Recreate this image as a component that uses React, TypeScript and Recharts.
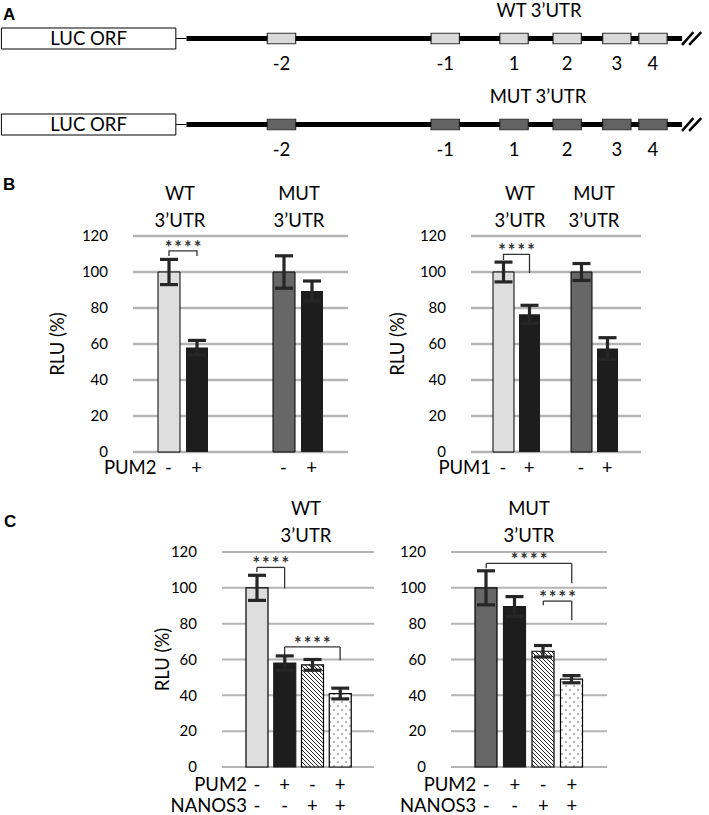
import React from "react";
import {
  BarChart,
  Bar,
  ComposedChart,
  Scatter,
  XAxis,
  YAxis,
  CartesianGrid,
  ErrorBar,
  Cell,
  LabelList,
  ReferenceLine,
  ReferenceArea,
} from "recharts";

const FONT = "Lato, 'Open Sans', sans-serif";
const LIGHT = "#dedede";
const DARK = "#676767";
const BLACK = "#1d1d1d";
const GRID = "#b4b4b4";
const ERR = "#262626";

// panel A - reporter constructs (schematic units, 0..100 across the page)
const motifLabels = ["-2", "-1", "1", "2", "3", "4"];
const motifStart = [37.7, 60.8, 70.5, 78.0, 85.0, 90.1];
const motifLen = 4;
const orfEnd = 24.8;
const utrStart = 26.3;
const utrEnd = 96.2;

// panel B
const constructs = ["WT 3’UTR", "MUT 3’UTR"];
const pum2Minus = [100, 100];
const pum2MinusErr = [7, 9];
const pum2Plus = [58, 89.5];
const pum2PlusErr = [4, 5.5];
const pum1Minus = [100, 100];
const pum1MinusErr = [5.5, 4.7];
const pum1Plus = [76.5, 57.5];
const pum1PlusErr = [5, 6];
// bracket per construct: [top, left leg end, right leg end]
const pum2Sig = [[111.7, 108.9, 108.9], null];
const pum1Sig = [[109.8, 106.7, 99.4], null];

// panel C
const pum2Signs = ["-", "+", "-", "+"];
const nanos3Signs = ["-", "-", "+", "+"];
const wtCombo = [100, 58, 57, 41];
const wtComboErr = [7, 4, 3, 3];
const mutCombo = [100, 89.5, 64.6, 49];
const mutComboErr = [9.5, 5.6, 3.2, 2];
// [from bar, to bar, top, left leg end, right leg end]
const wtSig = [
  [0, 1, 111.4, 108.9, 99.7],
  [1, 3, 67, 62.4, 59.6],
];
const mutSig = [
  [0, 3, 113.6, 111, 102.5],
  [2, 3, 92.6, 90.3, 81.9],
];

const yTicks = [0, 20, 40, 60, 80, 100, 120];

const txt = { fontFamily: FONT, fontSize: 18.5, fill: "#000" };

function Stars({ x, y }: { x: number; y: number }) {
  return (
    <text x={x + 1} y={y + 3} textAnchor="middle" fontFamily={FONT} fontWeight={700} fontSize={18} fill="#333" letterSpacing={2}>
      ****
    </text>
  );
}

function Construct({ top, boxFill }: { top: number; boxFill: string }) {
  const data = motifLabels.map((label, i) => ({
    label,
    start: motifStart[i],
    mid: motifStart[i] + motifLen / 2,
    y: 0,
  }));
  // backbone pieces between the motif boxes
  const cuts = [utrStart, ...motifStart.flatMap((s) => [s, s + motifLen]), utrEnd];
  const pieces: number[][] = [];
  for (let i = 0; i < cuts.length; i += 2) pieces.push([cuts[i], cuts[i + 1]]);

  return (
    <div style={{ position: "absolute", left: 0, top, width: 709, height: 86 }}>
      <ComposedChart width={709} height={86} data={data} margin={{ top: 28, right: 0, bottom: 7, left: 0 }}>
        <XAxis
          type="number"
          dataKey="mid"
          domain={[0, 100]}
          ticks={data.map((d) => d.mid)}
          interval={0}
          axisLine={false}
          tickLine={false}
          tickSize={0}
          tickMargin={0}
          height={30}
          tick={(p: any) => (
            <text x={p.x} y={p.y + 21} textAnchor="middle" {...txt}>
              {motifLabels[p.index]}
            </text>
          )}
        />
        <YAxis type="number" hide domain={[-1, 1]} />
        <Scatter dataKey="y" shape={() => <g />} isAnimationActive={false} />
        <ReferenceArea
          x1={0.2}
          x2={orfEnd}
          y1={-1}
          y2={1}
          fill="#fff"
          fillOpacity={1}
          stroke="#000"
          strokeWidth={1}
          ifOverflow="visible"
          label={{ value: "LUC ORF", position: "center", ...txt }}
        />
        {data.map((d) => (
          <ReferenceArea
            key={d.label}
            x1={d.start}
            x2={d.start + motifLen}
            y1={-0.5}
            y2={0.5}
            fill={boxFill}
            fillOpacity={1}
            stroke="#333"
            strokeWidth={1.2}
            ifOverflow="visible"
          />
        ))}
        <ReferenceLine segment={[{ x: orfEnd, y: 0 }, { x: utrStart, y: 0 }]} stroke="#000" strokeWidth={1} ifOverflow="visible" />
        {pieces.map(([a, b]) => (
          <ReferenceLine key={a} segment={[{ x: a, y: 0 }, { x: b, y: 0 }]} stroke="#000" strokeWidth={5} ifOverflow="visible" />
        ))}
        <ReferenceLine segment={[{ x: 96.2, y: -0.6 }, { x: 97.8, y: 0.6 }]} stroke="#000" strokeWidth={2.5} ifOverflow="visible" />
        <ReferenceLine segment={[{ x: 97.2, y: -0.6 }, { x: 98.9, y: 0.6 }]} stroke="#000" strokeWidth={2.5} ifOverflow="visible" />
      </ComposedChart>
    </div>
  );
}

function PumChart(props: any) {
  const { left, width, marginLeft, marginRight, labelOffset, padding, barSize, barGap, factor, minus, minusErr, plus, plusErr, sig } = props;
  const data = constructs.map((name, i) => ({
    name,
    minus: minus[i],
    minusErr: minusErr[i],
    plus: plus[i],
    plusErr: plusErr[i],
  }));
  const half = (barSize + barGap) / 2;

  const bracket = (p: any) => {
    const s = sig[p.index];
    if (!s) return null;
    const vb = p.viewBox || p;
    const unit = vb.height / p.value;
    const base = vb.y + vb.height;
    const py = (v: number) => base - v * unit;
    const x1 = vb.x + vb.width / 2;
    const x2 = x1 + vb.width + barGap;
    const [topV, l, r] = s;
    return (
      <g>
        <path d={`M${x1},${py(l)} V${py(topV)} H${x2} V${py(r)}`} fill="none" stroke="#333" strokeWidth={1.3} />
        <Stars x={(x1 + x2) / 2} y={py(topV)} />
      </g>
    );
  };

  return (
    <div style={{ position: "absolute", left, top: 150, width, height: 340 }}>
      <BarChart
        width={width}
        height={340}
        data={data}
        barGap={barGap}
        margin={{ top: 86, right: marginRight, bottom: 8, left: marginLeft }}
      >
        <CartesianGrid vertical={false} stroke={GRID} strokeWidth={2.5} />
        <XAxis
          dataKey="name"
          padding={padding}
          axisLine={false}
          tickLine={false}
          tickSize={0}
          tickMargin={0}
          height={30}
          interval={0}
          tick={(p: any) => (
            <g>
              {p.index === 0 && (
                <text x={p.x - half - 12} y={p.y + 22} textAnchor="end" {...txt}>
                  {factor}
                </text>
              )}
              <text x={p.x - half} y={p.y + 22} textAnchor="middle" {...txt}>-</text>
              <text x={p.x + half} y={p.y + 22} textAnchor="middle" {...txt}>+</text>
            </g>
          )}
        />
        <YAxis
          domain={[0, 120]}
          ticks={yTicks}
          width={80}
          axisLine={false}
          tickLine={false}
          tickSize={0}
          tickMargin={25}
          tick={{ fill: "#000", fontSize: 15, fontFamily: FONT }}
          label={{
            value: "RLU (%)",
            angle: -90,
            position: "insideLeft",
            offset: labelOffset,
            ...txt,
            style: { textAnchor: "middle" },
          }}
        />
        <Bar dataKey="minus" barSize={barSize} isAnimationActive={false}>
          {data.map((d, i) => (
            <Cell key={d.name} fill={i === 0 ? LIGHT : DARK} stroke="#000" strokeWidth={1} />
          ))}
          <ErrorBar dataKey="minusErr" width={9} strokeWidth={3.2} stroke={ERR} isAnimationActive={false} />
          <LabelList dataKey="minus" content={bracket} />
        </Bar>
        <Bar dataKey="plus" barSize={barSize} fill={BLACK} isAnimationActive={false}>
          <ErrorBar dataKey="plusErr" width={9} strokeWidth={3.2} stroke={ERR} isAnimationActive={false} />
        </Bar>
      </BarChart>
    </div>
  );
}

function ComboChart(props: any) {
  const { left, width, marginLeft, marginRight, yWidth, labelOffset, padding, values, errs, firstFill, sig, pid } = props;
  const data = pum2Signs.map((s, i) => ({ name: s + nanos3Signs[i], value: values[i], err: errs[i] }));
  const fills = [firstFill, BLACK, `url(#hatch-${pid})`, `url(#dots-${pid})`];

  const starLabel = (p: any) => {
    const vb = p.viewBox;
    return <Stars x={vb.x + vb.width / 2} y={vb.y} />;
  };

  const lines: any[] = [];
  sig.forEach(([from, to, topV, l, r]: number[], k: number) => {
    const a = data[from].name;
    const b = data[to].name;
    lines.push(
      <ReferenceLine key={`l${k}`} segment={[{ x: a, y: l }, { x: a, y: topV }]} stroke="#333" strokeWidth={1.3} ifOverflow="visible" />,
      <ReferenceLine key={`t${k}`} segment={[{ x: a, y: topV }, { x: b, y: topV }]} stroke="#333" strokeWidth={1.3} ifOverflow="visible" label={starLabel} />,
      <ReferenceLine key={`r${k}`} segment={[{ x: b, y: topV }, { x: b, y: r }]} stroke="#333" strokeWidth={1.3} ifOverflow="visible" />
    );
  });

  return (
    <div style={{ position: "absolute", left, top: 480, width, height: 335 }}>
      <BarChart
        width={width}
        height={335}
        data={data}
        margin={{ top: 72, right: marginRight, bottom: 0, left: marginLeft }}
      >
        <defs>
          <pattern id={`hatch-${pid}`} patternUnits="userSpaceOnUse" width={4} height={4}>
            <rect width={4} height={4} fill="#fff" />
            <path d="M-1,-1 L5,5 M-1,3 L1,5 M3,-1 L5,1" stroke="#222" strokeWidth={1} />
          </pattern>
          <pattern id={`dots-${pid}`} patternUnits="userSpaceOnUse" width={8} height={8}>
            <rect width={8} height={8} fill="#fff" />
            <circle cx={2} cy={2} r={0.7} fill="#333" />
            <circle cx={6} cy={6} r={0.7} fill="#333" />
          </pattern>
        </defs>
        <CartesianGrid vertical={false} stroke={GRID} strokeWidth={2} />
        <XAxis
          dataKey="name"
          padding={padding}
          axisLine={false}
          tickLine={false}
          tickSize={0}
          tickMargin={0}
          height={48}
          interval={0}
          tick={(p: any) => (
            <g>
              {p.index === 0 && (
                <>
                  <text x={p.x - 10} y={p.y + 24} textAnchor="end" {...txt}>PUM2</text>
                  <text x={p.x - 10} y={p.y + 45} textAnchor="end" {...txt}>NANOS3</text>
                </>
              )}
              <text x={p.x} y={p.y + 24} textAnchor="middle" {...txt}>{pum2Signs[p.index]}</text>
              <text x={p.x} y={p.y + 45} textAnchor="middle" {...txt}>{nanos3Signs[p.index]}</text>
            </g>
          )}
        />
        <YAxis
          domain={[0, 120]}
          ticks={yTicks}
          width={yWidth}
          axisLine={false}
          tickLine={false}
          tickSize={0}
          tickMargin={25}
          tick={{ fill: "#000", fontSize: 15, fontFamily: FONT }}
          label={
            labelOffset == null
              ? undefined
              : {
                  value: "RLU (%)",
                  angle: -90,
                  position: "insideLeft",
                  offset: labelOffset,
                  ...txt,
                  style: { textAnchor: "middle" },
                }
          }
        />
        <Bar dataKey="value" barSize={22} isAnimationActive={false}>
          {data.map((d, i) => (
            <Cell key={d.name} fill={fills[i]} stroke={i === 1 ? BLACK : "#000"} strokeWidth={1.2} />
          ))}
          <ErrorBar dataKey="err" width={9} strokeWidth={3.2} stroke={ERR} isAnimationActive={false} />
        </Bar>
        {lines}
      </BarChart>
    </div>
  );
}

function TwoLine({ x, y, text }: { x: number; y: number; text: string }) {
  const [a, b] = text.split(" ");
  return (
    <>
      <text x={x} y={y} textAnchor="middle" {...txt}>{a}</text>
      <text x={x} y={y + 27} textAnchor="middle" {...txt}>{b}</text>
    </>
  );
}

export default function App() {
  const letter = { fontFamily: "'Liberation Sans', Arial, sans-serif", fontWeight: 700, fontSize: 17, fill: "#000" };
  return (
    <div style={{ position: "absolute", left: 0, top: 0, width: 709, height: 815, background: "#fff", overflow: "hidden" }}>
      <Construct top={0} boxFill="#d9d9d9" />
      <Construct top={86} boxFill="#636363" />
      <PumChart
        left={0}
        width={360}
        marginLeft={53}
        marginRight={12}
        labelOffset={4}
        padding={{ left: -8, right: -7 }}
        barSize={22}
        barGap={6}
        factor="PUM2"
        minus={pum2Minus}
        minusErr={pum2MinusErr}
        plus={pum2Plus}
        plusErr={pum2PlusErr}
        sig={pum2Sig}
      />
      <PumChart
        left={360}
        width={349}
        marginLeft={31}
        marginRight={68}
        labelOffset={6}
        padding={{ left: 6, right: 8 }}
        barSize={21}
        barGap={5}
        factor="PUM1"
        minus={pum1Minus}
        minusErr={pum1MinusErr}
        plus={pum1Plus}
        plusErr={pum1PlusErr}
        sig={pum1Sig}
      />
      <ComboChart
        left={0}
        width={400}
        marginLeft={142}
        marginRight={26}
        yWidth={80}
        labelOffset={20}
        padding={{ left: 21, right: 20 }}
        values={wtCombo}
        errs={wtComboErr}
        firstFill={LIGHT}
        sig={wtSig}
        pid="wt"
      />
      <ComboChart
        left={400}
        width={309}
        marginLeft={1}
        marginRight={102}
        yWidth={50}
        labelOffset={null}
        padding={{ left: 21, right: 21 }}
        values={mutCombo}
        errs={mutComboErr}
        firstFill={DARK}
        sig={mutSig}
        pid="mut"
      />
      <svg width={709} height={815} style={{ position: "absolute", left: 0, top: 0, pointerEvents: "none" }}>
        <text x={3} y={20} {...letter}>A</text>
        <text x={3} y={190} {...letter}>B</text>
        <text x={4} y={527} {...letter}>C</text>
        <text x={539} y={17} textAnchor="middle" {...txt}>{constructs[0]}</text>
        <text x={538} y={103} textAnchor="middle" {...txt}>{constructs[1]}</text>
        <TwoLine x={180} y={200} text={constructs[0]} />
        <TwoLine x={299} y={200} text={constructs[1]} />
        <TwoLine x={520} y={200} text={constructs[0]} />
        <TwoLine x={594} y={200} text={constructs[1]} />
        <TwoLine x={306} y={515} text={constructs[0]} />
        <TwoLine x={529} y={515} text={constructs[1]} />
      </svg>
    </div>
  );
}
